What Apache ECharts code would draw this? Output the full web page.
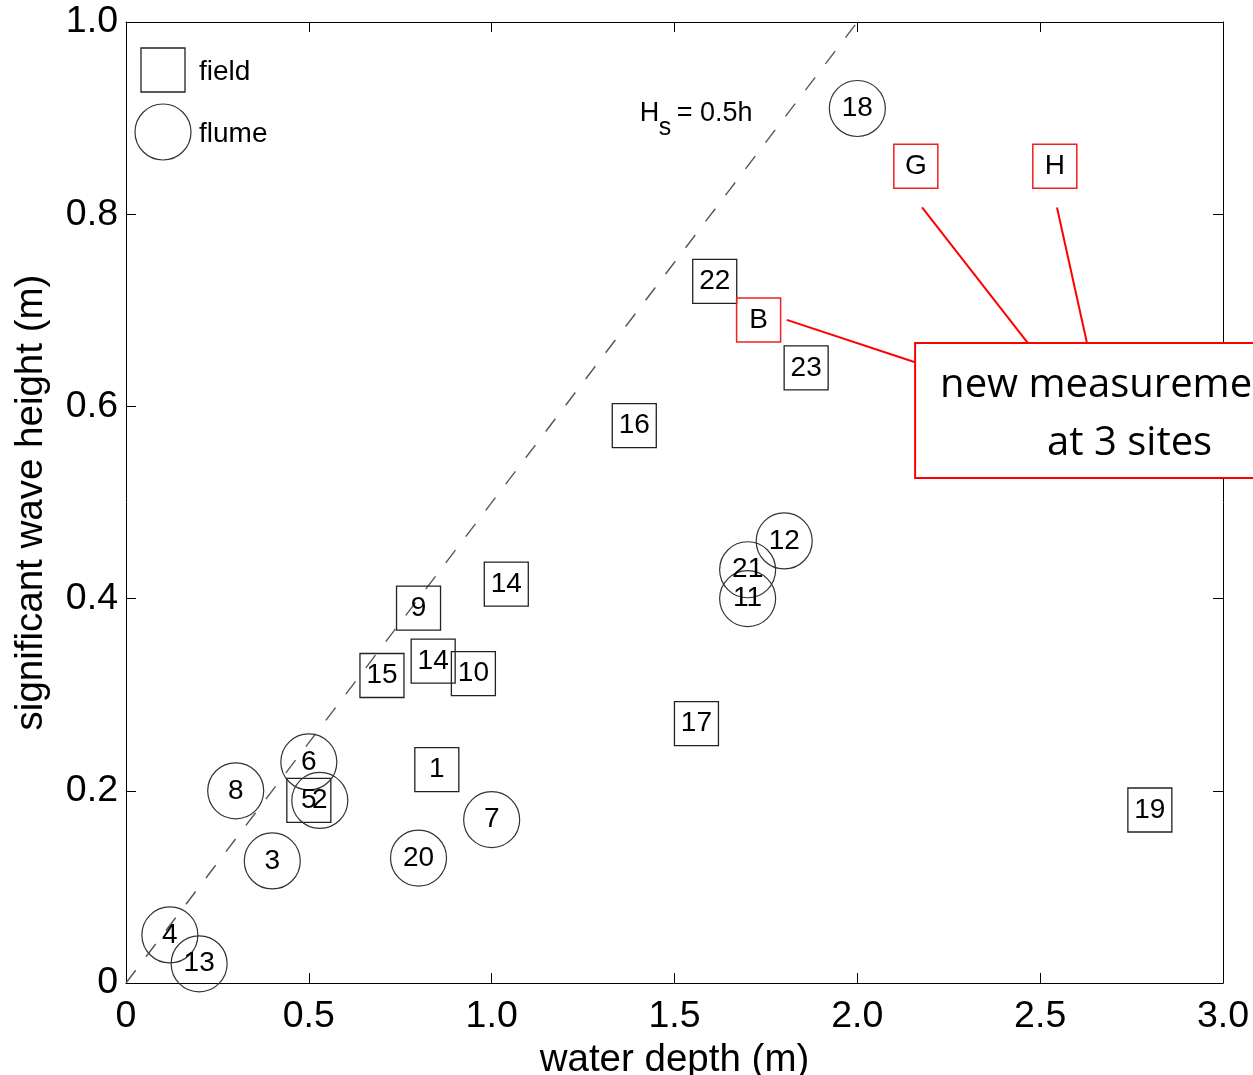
<!DOCTYPE html>
<html>
<head>
<meta charset="utf-8">
<script src="https://cdn.jsdelivr.net/npm/echarts@6/dist/echarts.min.js"></script>
<style>html,body{margin:0;padding:0;background:#fff;overflow:hidden;}#c{width:1253px;height:1075px;}</style>
</head>
<body>
<div id="c"></div>
<script>
// ---- data ----
const fieldLabels = ['22','23','16','14','9','14','15','10','1','17','19','5'];
const fieldX = [1.61,1.86,1.39,1.04,0.80,0.84,0.70,0.95,0.85,1.56,2.80,0.50];
const fieldY = [0.73,0.64,0.58,0.415,0.39,0.335,0.32,0.322,0.222,0.27,0.18,0.19];

const newLabels = ['G','H','B'];
const newX = [2.16,2.54,1.73];
const newY = [0.85,0.85,0.69];

const flumeLabels = ['18','12','21','11','6','2','8','3','20','7','4','13'];
const flumeX = [2.00,1.80,1.70,1.70,0.50,0.53,0.30,0.40,0.80,1.00,0.12,0.20];
const flumeY = [0.91,0.46,0.43,0.40,0.23,0.19,0.20,0.127,0.13,0.17,0.05,0.02];

const refLineX = [0, 2.0];
const refLineY = [0, 1.0];

const xTickLabels = ['0','0.5','1.0','1.5','2.0','2.5','3.0'];
const yTickLabels = ['0','0.2','0.4','0.6','0.8','1.0'];

// callout connectors (data coords): [startX,startY,endX,endY]
const connG = [2.177, 0.807, 2.466, 0.666];
const connH = [2.546, 0.807, 2.628, 0.666];
const connB = [1.807, 0.690, 2.158, 0.646];
const calloutText1 = 'new measurements';
const calloutText2 = 'at 3 sites';

const FONT = '"Liberation Sans", Arial, Helvetica, sans-serif';

function pts(xs, ys, names) {
  return xs.map((x, i) => ({ value: [x, ys[i]], name: names ? names[i] : '' }));
}
function seg(c) { return [[c[0], c[1]], [c[2], c[3]]]; }

const chart = echarts.init(document.getElementById('c'), null, { renderer: 'canvas' });

const labelStyle = { show: true, position: 'inside', formatter: '{b}', color: '#000', fontFamily: FONT, fontSize: 28 };

const baseAxis = {
  min: 0,
  axisLine: { show: true, onZero: false, lineStyle: { color: '#000', width: 1 } },
  axisTick: { show: true, inside: true, length: 10, lineStyle: { color: '#000', width: 1 } },
  splitLine: { show: false }
};

const option = {
  animation: false,
  backgroundColor: '#fff',
  grid: { left: 126, right: 30, top: 22, bottom: 92, containLabel: false, outerBoundsMode: 'none' },
  xAxis: [
    Object.assign({}, baseAxis, {
      type: 'value', max: 3, interval: 0.5, position: 'bottom',
      name: 'water depth (m)', nameLocation: 'middle', nameGap: 50,
      nameTextStyle: { fontFamily: FONT, fontSize: 38.5, color: '#000' },
      axisLabel: { show: true, margin: 15, color: '#000', fontFamily: FONT, fontSize: 37.5,
        formatter: v => xTickLabels[Math.round(v / 0.5)] }
    }),
    Object.assign({}, baseAxis, {
      type: 'value', max: 3, interval: 0.5, position: 'top', axisLabel: { show: false }
    })
  ],
  yAxis: [
    Object.assign({}, baseAxis, {
      type: 'value', max: 1, interval: 0.2, position: 'left',
      name: 'significant wave height (m)', nameLocation: 'middle', nameGap: 75,
      nameTextStyle: { fontFamily: FONT, fontSize: 38.5, color: '#000' },
      axisLabel: { show: true, margin: 8, color: '#000', fontFamily: FONT, fontSize: 37.5,
        formatter: v => yTickLabels[Math.round(v / 0.2)] }
    }),
    Object.assign({}, baseAxis, {
      type: 'value', max: 1, interval: 0.2, position: 'right', axisLabel: { show: false }
    })
  ],
  series: [
    {
      type: 'line', name: 'ref', data: refLineX.map((x, i) => [x, refLineY[i]]),
      showSymbol: false, symbol: 'none', silent: true,
      lineStyle: { color: '#555', width: 1.4, type: [16, 17] }, z: 1
    },
    {
      type: 'scatter', name: 'field', data: pts(fieldX, fieldY, fieldLabels),
      symbol: 'rect', symbolSize: 44,
      itemStyle: { color: 'rgba(0,0,0,0)', borderColor: '#222', borderWidth: 1.3, opacity: 1 },
      label: labelStyle, z: 3
    },
    {
      type: 'scatter', name: 'new', data: pts(newX, newY, newLabels),
      symbol: 'rect', symbolSize: 44,
      itemStyle: { color: 'rgba(0,0,0,0)', borderColor: '#f02020', borderWidth: 1.5, opacity: 1 },
      label: labelStyle, z: 3
    },
    {
      type: 'scatter', name: 'flume', data: pts(flumeX, flumeY, flumeLabels),
      symbol: 'circle', symbolSize: 56,
      itemStyle: { color: 'rgba(0,0,0,0)', borderColor: '#333', borderWidth: 1.2, opacity: 1 },
      label: labelStyle, z: 3
    },
    ...[connG, connH, connB].map(c => ({
      type: 'line', data: seg(c), showSymbol: false, symbol: 'none', silent: true, clip: false,
      lineStyle: { color: '#ff0000', width: 2 }, z: 4
    }))
  ]
};

chart.setOption(option);

// ---- annotations (legend, formula, callout box) ----
const boxTL = chart.convertToPixel({ gridIndex: 0 }, [2.158, 0.666]);
const boxBR = chart.convertToPixel({ gridIndex: 0 }, [3.0, 0.5255]);
const hsAnchor = chart.convertToPixel({ gridIndex: 0 }, [1.405, 0.906]);
const legTL = chart.convertToPixel({ gridIndex: 0 }, [0.0, 1.0]);

const lx = legTL[0], ly = legTL[1];
const CFONT = '"Open Sans", "Noto Sans", sans-serif';
const graphics = [
  // legend
  { type: 'rect', shape: { x: lx + 15, y: ly + 26, width: 44, height: 44 },
    style: { fill: 'none', stroke: '#222', lineWidth: 1.3 }, z: 10 },
  { type: 'text', x: lx + 73, y: ly + 50, style: { text: 'field', fill: '#000', font: '28px ' + FONT, textVerticalAlign: 'middle' }, z: 10 },
  { type: 'circle', shape: { cx: lx + 37, cy: ly + 110, r: 28 },
    style: { fill: 'none', stroke: '#333', lineWidth: 1.2 }, z: 10 },
  { type: 'text', x: lx + 73, y: ly + 112, style: { text: 'flume', fill: '#000', font: '28px ' + FONT, textVerticalAlign: 'middle' }, z: 10 },
  // Hs = 0.5h
  { type: 'text', x: hsAnchor[0], y: hsAnchor[1] + 1, style: { text: 'H', fill: '#000', font: '27px ' + FONT, textVerticalAlign: 'middle' }, z: 10 },
  { type: 'text', x: hsAnchor[0] + 19, y: hsAnchor[1] + 16, style: { text: 's', fill: '#000', font: '25px ' + FONT, textVerticalAlign: 'middle' }, z: 10 },
  { type: 'text', x: hsAnchor[0] + 37, y: hsAnchor[1] + 1, style: { text: '= 0.5h', fill: '#000', font: '27px ' + FONT, textVerticalAlign: 'middle' }, z: 10 },
  // callout box
  { type: 'rect', shape: { x: boxTL[0], y: boxTL[1], width: 420, height: boxBR[1] - boxTL[1] },
    style: { fill: '#fff', stroke: '#ff0000', lineWidth: 2 }, z: 20 },
  { type: 'text', x: boxTL[0] + 25, y: boxTL[1] + 43, style: { text: calloutText1, fill: '#000', font: '40px ' + CFONT, textVerticalAlign: 'middle' }, z: 21 },
  { type: 'text', x: boxTL[0] + 132, y: boxTL[1] + 101, style: { text: calloutText2, fill: '#000', font: '40px ' + CFONT, textVerticalAlign: 'middle' }, z: 21 }
];
chart.setOption({ graphic: graphics });
</script>
</body>
</html>
